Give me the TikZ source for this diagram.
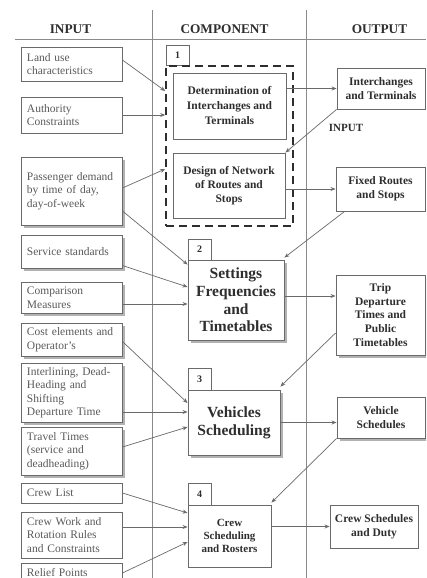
\documentclass[tikz,border=0pt]{standalone}
\usepackage{fontspec}
\setmainfont{Liberation Serif}
\usetikzlibrary{arrows.meta,shadows}
\definecolor{ln}{HTML}{6A6A6A}
\definecolor{fr}{HTML}{8A8A8A}
\definecolor{tx}{HTML}{5A5A5A}
\definecolor{dk}{HTML}{2E2E2E}
\begin{document}
\begin{tikzpicture}[x=1pt,y=-1pt,
  box/.style={draw=ln, line width=0.9pt, rectangle, fill=white, inner sep=0pt},
  inbox/.style={box, text=tx, align=left, text width=89pt, inner xsep=6pt, minimum width=101pt,
    font=\fontsize{11.5}{13.5}\selectfont},
  compbox/.style={box, text=dk, align=center, font=\bfseries\fontsize{11.5}{15}\selectfont},
  bigbox/.style={box, text=dk, align=center, font=\bfseries\fontsize{15.5}{17.7}\selectfont},
  outbox/.style={box, text=dk, align=center, font=\bfseries\fontsize{11.5}{14}\selectfont},
  numbox/.style={box, text=dk, minimum width=23pt, font=\bfseries\fontsize{10}{12}\selectfont},
  head/.style={text=dk, font=\bfseries\fontsize{13.3}{15}\selectfont},
  sh/.style={drop shadow={shadow xshift=3pt, shadow yshift=-3pt, fill=black!30, opacity=1}},
  arr/.style={draw=ln, line width=0.7pt, -{Stealth[length=5pt,width=4pt]}},
  frame/.style={draw=fr, line width=0.8pt}]
\clip (0,0) rectangle (426,578);
\fill[white] (0,0) rectangle (426,578);
% frame lines
\draw[frame] (15,39) -- (426,39);
\draw[frame] (152,10) -- (152,578);
\draw[frame] (306,10) -- (306,578);
% headers
\node[head] (hIn) at (70.5,29) {INPUT};
\node[head] (hComp) at (224.5,29) {COMPONENT};
\node[head] (hOut) at (379.5,29) {OUTPUT};
% input boxes
\node[inbox, minimum height=34pt] (inA) at (71.5,64) {Land use\\characteristics};
\node[inbox, minimum height=36pt] (inB) at (71.5,115) {Authority\\Constraints};
\node[inbox, sh, minimum height=68pt] (inC) at (71.5,191) {Passenger demand\\by time of day,\\day-of-week};
\node[inbox, sh, minimum height=33pt] (inD) at (71.5,251.5) {Service standards};
\node[inbox, sh, minimum height=31pt] (inE) at (71.5,297.5) {Comparison\\Measures};
\node[inbox, sh, minimum height=33pt] (inF) at (71.5,339.5) {Cost elements and\\Operator's};
\node[inbox, sh, minimum height=59pt] (inG) at (71.5,392.5) {Interlining, Dead-\\Heading and\\Shifting\\Departure Time};
\node[inbox, sh, minimum height=48pt] (inH) at (71.5,451) {Travel Times\\(service and\\deadheading)};
\node[inbox, minimum height=20pt] (inI) at (71.5,493) {Crew List};
\node[inbox, minimum height=46pt] (inJ) at (71.5,535) {Crew Work and\\Rotation Rules\\and Constraints};
\node[inbox, minimum height=20pt] (inK) at (71.5,573) {Relief Points};
% component column
\node[numbox, minimum height=20pt] (n1) at (177.5,55) {1};
\node[draw=dk, dash pattern=on 8pt off 5pt, line width=1.6pt, minimum width=127pt, minimum height=160pt, inner sep=0pt] (grp) at (229.5,146) {};
\node[compbox, minimum width=113pt, minimum height=66pt] (det) at (229.5,106) {Determination of\\Interchanges and\\Terminals};
\node[compbox, minimum width=112pt, minimum height=65pt, font=\bfseries\fontsize{11.5}{14}\selectfont] (des) at (229,185.5) {Design of Network\\of Routes and\\Stops};
\node[numbox, minimum height=21pt] (n2) at (199.5,249.5) {2};
\node[bigbox, sh, minimum width=96pt, minimum height=80pt] (set) at (236,300) {Settings\\Frequencies\\and\\Timetables};
\node[numbox, minimum height=22pt] (n3) at (199.5,379) {3};
\node[bigbox, sh, minimum width=92pt, minimum height=65pt] (veh) at (234,422.5) {Vehicles\\Scheduling};
\node[numbox, minimum height=22pt] (n4) at (199.5,494) {4};
\node[compbox, minimum width=83pt, minimum height=62pt, font=\bfseries\fontsize{11}{13.3}\selectfont] (crew) at (229.5,536) {Crew\\Scheduling\\and Rosters};
% output column
\node[outbox, minimum width=88pt, minimum height=41pt] (oA) at (381,88.5) {Interchanges\\and Terminals};
\node[text=dk, font=\bfseries\fontsize{11}{13}\selectfont] (lbl) at (346,128) {INPUT};
\node[outbox, minimum width=89pt, minimum height=44pt] (oB) at (380.5,189) {Fixed Routes\\and Stops};
\node[outbox, sh, minimum width=89pt, minimum height=80pt, font=\bfseries\fontsize{11.5}{13.8}\selectfont] (oC) at (380.5,315) {Trip\\Departure\\Times and\\Public\\Timetables};
\node[outbox, sh, minimum width=88pt, minimum height=41pt] (oD) at (381,417.5) {Vehicle\\Schedules};
\node[outbox, minimum width=88pt, minimum height=43pt] (oE) at (374,526.5) {Crew Schedules\\and Duty};
% connectors
\draw[arr] ([yshift=4pt]inA.east) -- ([yshift=55pt]grp.west);
\draw[arr] (inB.east) -- (inB.east -| grp.west);
\draw[arr] (oA.west -| det.east) -- (oA.west);
\draw[arr] (oA.south west) -- (des.north east);
\draw[arr] ([yshift=3pt]inC.east) -- ([yshift=-23pt]grp.west);
\draw[arr] ([yshift=-20pt]inC.east) -- ([yshift=-5pt]set.north west);
\draw[arr] (oB.west -| des.east) -- (oB.west);
\draw[arr] ([xshift=9pt]oB.south west) -- ([yshift=2pt]set.north east);
\draw[arr] ([yshift=-14pt]inD.east) -- ([yshift=13pt]set.west);
\draw[arr] ([yshift=-6.5pt]inE.east) -- ([yshift=-6.5pt]inE.east -| set.west);
\draw[arr] ([yshift=4pt]set.east) -- ([yshift=4pt]set.east -| oC.west);
\draw[arr] ([yshift=-2pt]inF.east) -- ([yshift=19.5pt]veh.west);
\draw[arr] ([yshift=-19.5pt]inG.east) -- ([yshift=-19.5pt]inG.east -| veh.west);
\draw[arr] ([yshift=4pt]inH.east) -- ([yshift=-4.5pt]veh.west);
\draw[arr] ([yshift=-18pt]oC.west) -- ([yshift=3pt]veh.north east);
\draw[arr] (veh.east) -- (veh.east -| oD.west);
\draw[arr] (oD.south west) -- ([yshift=2pt]crew.north east);
\draw[arr] (inI.east) -- ([yshift=23pt]crew.west);
\draw[arr] ([yshift=8pt]inJ.east) -- ([yshift=8pt]inJ.east -| crew.west);
\draw[arr] (inK.east) -- ([yshift=-6pt]crew.west);
\draw[arr] (oE.west -| crew.east) -- (oE.west);
\end{tikzpicture}
\end{document}
